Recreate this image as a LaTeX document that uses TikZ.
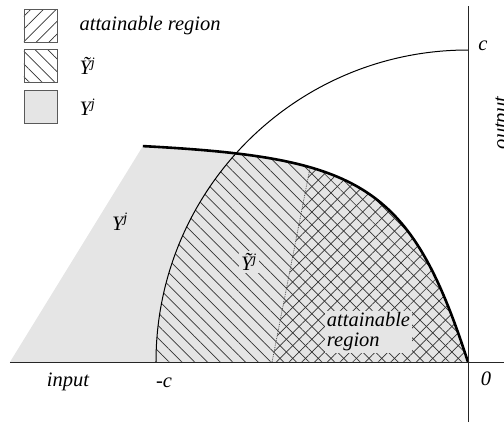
\documentclass[tikz,border=0pt]{standalone}
\usepackage{fontspec}
\setmainfont{Liberation Serif}
\usetikzlibrary{positioning,patterns.meta}

\tikzset{
 frontier/.style={insert path={-- (-1.042,0.692) .. controls (-0.343,0.655) and (-0.185,0.571) .. (0,0)}}
}

\begin{document}
\begin{tikzpicture}[x=312pt,y=312pt,node distance=7pt and 22pt,
 lbl/.style={font=\fontsize{20.5}{20}\selectfont\itshape,inner sep=0pt},
 key/.style={draw=black!65,line width=0.8pt,minimum size=33pt,inner sep=0pt},
 nwlines/.style={pattern={Lines[angle=-45,distance=9pt,line width=0.7pt]},pattern color=black!80},
 nelines/.style={pattern={Lines[angle=45,distance=9pt,line width=0.7pt]},pattern color=black!80},
 greyfill/.style={fill=black!10},
 axis/.style={line width=0.8pt,draw=black!85}]
\useasboundingbox (-1.5,-0.192308) rectangle (0.115385,1.160256);
% regions
\fill[greyfill] (-1.468,0) [frontier] -- cycle;
\begin{scope}
 \clip (0,0) circle (1);
 \fill[nwlines] (-1.468,0) [frontier] -- cycle;
\end{scope}
\begin{scope}
 \clip (-0.628,0) -- (-0.506,0.624) -- (-0.45,1.1) -- (0.1,1.1) -- (0.1,0) -- cycle;
 \fill[nelines] (-1.468,0) [frontier] -- cycle;
\end{scope}
% curves and axes
\draw[line width=1pt] (-1,0) arc[start angle=180,end angle=90,radius=1];
\draw[line width=2.6pt] (-1.042,0.692) [frontier];
\draw[densely dotted,line width=0.8pt,black!70] (-0.628,0) -- (-0.506,0.624);
\draw[axis] (-1.468,0) -- (0.115385,0);
\draw[axis] (0,-0.192308) -- (0,1.141);
% labels
\node[lbl] (cTop) at (0.048,1.0128) {c};
\node[lbl,rotate=90,anchor=base] (outLbl) at (0.125,0.766) {output};
\node[lbl] (inLbl) at (-1.282,-0.0641) {input};
\node[lbl] (negC) at (-0.974,-0.067) {-c};
\node[lbl] (zero) at (0.0577,-0.0545) {0};
\node[lbl] (yLbl) at (-1.1154,0.4487) {Y\textsuperscript{j}};
\node[lbl,greyfill,inner sep=2pt] (ytLbl) at (-0.7019,0.3205) {Ỹ\textsuperscript{j}};
\node[lbl,greyfill,inner sep=2pt,align=left] (attLbl) at (-0.3189,0.0962) {attainable\\region};
% legend
\node[key,nelines] (keyAtt) at (-1.3702,1.0785) {};
\node[key,nwlines,below=of keyAtt] (keyYt) {};
\node[key,greyfill,below=of keyYt] (keyY) {};
\node[lbl,right=of keyAtt] (txtAtt) {attainable region};
\node[lbl,right=of keyYt] (txtYt) {Ỹ\textsuperscript{j}};
\node[lbl,right=of keyY] (txtY) {Y\textsuperscript{j}};
\end{tikzpicture}
\end{document}
